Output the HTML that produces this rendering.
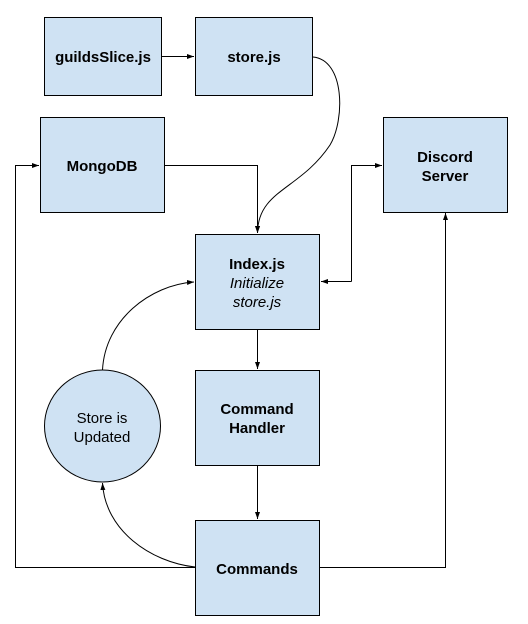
<!DOCTYPE html>
<html><head><style>
body{margin:0;background:#fff;}
svg{display:block;}
text{font-family:"Liberation Sans",Arial,sans-serif;font-size:15px;fill:#000;}
.b{font-weight:bold;}
</style></head><body>
<svg width="528" height="624" viewBox="0 0 528 624">
<defs><marker id="a" markerWidth="8" markerHeight="8" refX="7" refY="4" orient="auto" markerUnits="userSpaceOnUse"><path d="M0,1.5 L7,4 L0,6.5z" fill="#000"/></marker></defs>
<g fill="#cfe2f3" stroke="#000" stroke-width="1">
<rect x="44.5" y="17.5" width="117" height="78"/>
<rect x="195.5" y="17.5" width="117" height="78"/>
<rect x="40.5" y="117.5" width="124" height="95"/>
<rect x="383.5" y="117.5" width="124" height="95"/>
<rect x="195.5" y="234.5" width="124" height="95"/>
<rect x="195.5" y="370.5" width="124" height="95"/>
<rect x="195.5" y="520.5" width="124" height="95"/>
<ellipse cx="102.5" cy="426" rx="58" ry="56"/>
</g>
<g fill="none" stroke="#000" stroke-width="1">
<path d="M162,56.5 H194" marker-end="url(#a)"/>
<path d="M165,165.5 H257.5 V233" marker-end="url(#a)"/>
<path d="M313,57 C345,60 345,120 330,145 C300,190 258,190 257.5,233" marker-end="url(#a)"/>
<path d="M351.5,281.5 V165.5 H382" marker-end="url(#a)"/>
<path d="M351.5,281.5 H321" marker-end="url(#a)"/>
<path d="M320,567.5 H445.5 V213" marker-end="url(#a)"/>
<path d="M195,567.5 H15.5 V165.5 H39" marker-end="url(#a)"/>
<path d="M257.5,330 V369" marker-end="url(#a)"/>
<path d="M257.5,466 V519" marker-end="url(#a)"/>
<path d="M102.5,370 C105,320 150,285 194,282" marker-end="url(#a)"/>
<path d="M195,567 C150,562 105,530 102.5,483" marker-end="url(#a)"/>
</g>
<text class="b" x="103" y="62" text-anchor="middle">guildsSlice.js</text>
<text class="b" x="254" y="62" text-anchor="middle">store.js</text>
<text class="b" x="102" y="171" text-anchor="middle">MongoDB</text>
<text class="b" x="445" y="162" text-anchor="middle">Discord</text>
<text class="b" x="445" y="181" text-anchor="middle">Server</text>
<text class="b" x="257" y="269" text-anchor="middle">Index.js</text>
<text x="257" y="288" text-anchor="middle" font-style="italic">Initialize</text>
<text x="257" y="307" text-anchor="middle" font-style="italic">store.js</text>
<text class="b" x="257" y="414" text-anchor="middle">Command</text>
<text class="b" x="257" y="433" text-anchor="middle">Handler</text>
<text class="b" x="257" y="574" text-anchor="middle">Commands</text>
<text x="102" y="423" text-anchor="middle">Store is</text>
<text x="102" y="442" text-anchor="middle">Updated</text>
</svg>
</body></html>
